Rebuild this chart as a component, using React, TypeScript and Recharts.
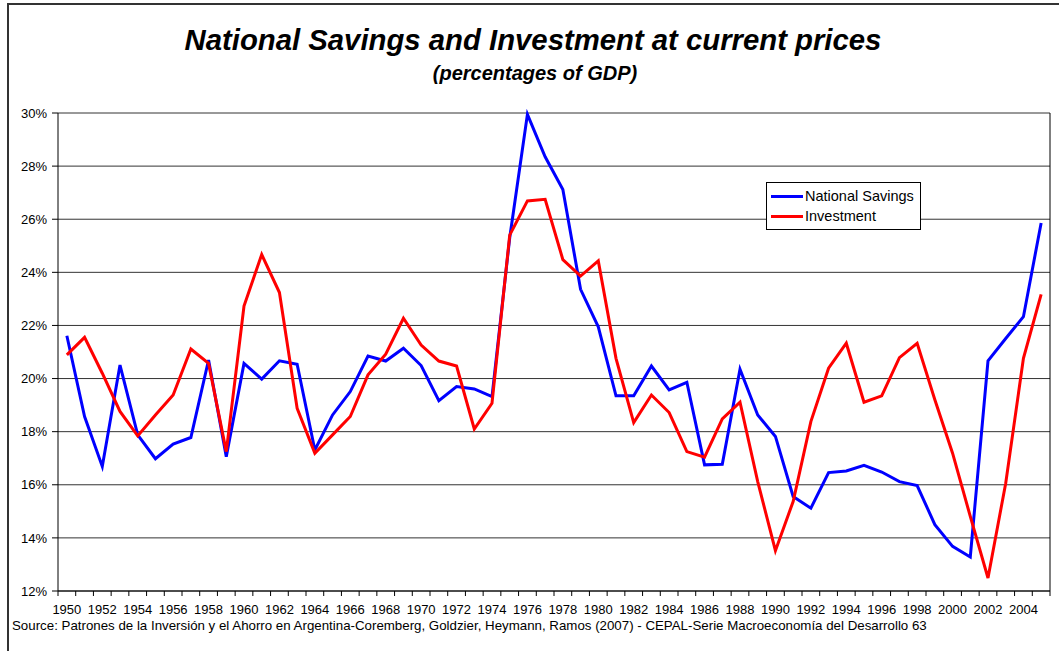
import React from 'react';
import { LineChart, Line, XAxis, YAxis, CartesianGrid, Legend, ReferenceLine } from 'recharts';

const years = [
  1950, 1951, 1952, 1953, 1954, 1955, 1956, 1957, 1958, 1959,
  1960, 1961, 1962, 1963, 1964, 1965, 1966, 1967, 1968, 1969,
  1970, 1971, 1972, 1973, 1974, 1975, 1976, 1977, 1978, 1979,
  1980, 1981, 1982, 1983, 1984, 1985, 1986, 1987, 1988, 1989,
  1990, 1991, 1992, 1993, 1994, 1995, 1996, 1997, 1998, 1999,
  2000, 2001, 2002, 2003, 2004, 2005,
];

const nationalSavings = [
  21.61, 18.57, 16.69, 20.51, 17.88, 16.98, 17.53, 17.78, 20.7, 17.06,
  20.57, 19.98, 20.67, 20.54, 17.31, 18.63, 19.51, 20.85, 20.66, 21.14,
  20.49, 19.17, 19.7, 19.61, 19.32, 25.3, 29.95, 28.35, 27.12, 23.36,
  21.95, 19.35, 19.35, 20.47, 19.57, 19.86, 16.75, 16.77, 20.35, 18.63,
  17.82, 15.56, 15.12, 16.46, 16.52, 16.73, 16.48, 16.12, 15.97, 14.5,
  13.68, 13.28, 20.67, 21.51, 22.33, 25.86,
];

const investment = [
  20.89, 21.55, 20.2, 18.76, 17.84, 18.63, 19.38, 21.11, 20.57, 17.25,
  22.73, 24.67, 23.24, 18.88, 17.19, 17.88, 18.57, 20.14, 20.92, 22.27,
  21.26, 20.66, 20.47, 18.1, 19.07, 25.4, 26.69, 26.75, 24.48, 23.86,
  24.43, 20.76, 18.34, 19.38, 18.72, 17.25, 17.04, 18.48, 19.11, 16.12,
  13.52, 15.37, 18.38, 20.39, 21.33, 19.11, 19.35, 20.79, 21.33, 19.2,
  17.19, 14.81, 12.49, 16.06, 20.76, 23.17,
];

const yearLabels = [
  1950, 1952, 1954, 1956, 1958, 1960, 1962, 1964, 1966, 1968,
  1970, 1972, 1974, 1976, 1978, 1980, 1982, 1984, 1986, 1988,
  1990, 1992, 1994, 1996, 1998, 2000, 2002, 2004,
];

const yTicks = [12, 14, 16, 18, 20, 22, 24, 26, 28, 30];

const seriesNames = ['National Savings', 'Investment'];

const data = years.map((year, i) => ({
  year,
  savings: nationalSavings[i],
  investment: investment[i],
}));

// Excel puts tick marks between categories
const boundaries = [...years.map((y) => y - 0.5), years[years.length - 1] + 0.5];
const xDomain = [boundaries[0], boundaries[boundaries.length - 1]];

const FONT = '"Liberation Sans", Arial, sans-serif';

function LegendBox({ payload }: any) {
  const items = [...(payload || [])].sort(
    (a: any, b: any) => seriesNames.indexOf(a.value) - seriesNames.indexOf(b.value)
  );
  return (
    <div style={{ background: '#fff', border: '1px solid #000', padding: '3px 4px', width: 145 }}>
      {items.map((p: any) => (
        <div key={p.value} style={{ display: 'flex', alignItems: 'center', height: 20 }}>
          <span style={{ display: 'inline-block', width: 32, height: 3, background: p.color, marginRight: 2 }} />
          <span style={{ fontSize: 14.5, color: '#000' }}>{p.value}</span>
        </div>
      ))}
    </div>
  );
}

export default function App() {
  return (
    <div style={{ position: 'absolute', left: 0, top: 0, width: 1059, height: 651, background: '#fff', overflow: 'hidden', fontFamily: FONT }}>
      <div style={{ position: 'absolute', left: 7, top: 3, width: 1100, height: 700, border: '2px solid #333' }} />
      <div style={{ position: 'absolute', left: 0, top: 25, width: 1066, textAlign: 'center', fontSize: 29.3, lineHeight: 1, fontWeight: 'bold', fontStyle: 'italic' }}>
        National Savings and Investment at current prices
      </div>
      <div style={{ position: 'absolute', left: 0, top: 63, width: 1070, textAlign: 'center', fontSize: 20, lineHeight: 1, fontWeight: 'bold', fontStyle: 'italic' }}>
        (percentages of GDP)
      </div>
      <div style={{ position: 'absolute', left: 12, top: 619, fontSize: 13.3, lineHeight: 1, whiteSpace: 'nowrap' }}>
        Source: Patrones de la Inversión y el Ahorro en Argentina-Coremberg, Goldzier, Heymann, Ramos (2007) - CEPAL-Serie Macroeconomía del Desarrollo 63
      </div>
      <div style={{ position: 'absolute', left: 0, top: 0 }}>
        <LineChart width={1059} height={651} data={data} margin={{ top: 113, right: 9, bottom: 30, left: 0 }}>
          <CartesianGrid vertical={false} stroke="#333" strokeWidth={1} />
          <XAxis
            dataKey="year"
            type="number"
            domain={xDomain}
            ticks={boundaries}
            interval={0}
            height={5}
            tickSize={5}
            tickFormatter={() => ''}
            stroke="#000"
            axisLine={{ stroke: '#000' }}
            tickLine={{ stroke: '#000' }}
          />
          <XAxis
            xAxisId="labels"
            dataKey="year"
            type="number"
            domain={xDomain}
            ticks={yearLabels}
            interval={0}
            height={25}
            axisLine={false}
            tickLine={false}
            tickSize={0}
            tickMargin={9}
            tick={{ fill: '#000', fontSize: 13, fontFamily: FONT }}
          />
          <YAxis
            width={58}
            domain={[12, 30]}
            ticks={yTicks}
            interval={0}
            tickSize={6}
            tickMargin={5}
            tickFormatter={(v) => `${v}%`}
            axisLine={{ stroke: '#000' }}
            tickLine={{ stroke: '#000' }}
            tick={{ fill: '#000', fontSize: 13, fontFamily: FONT }}
          />
          <ReferenceLine x={xDomain[1]} stroke="#000" strokeWidth={1} />
          <Legend
            layout="vertical"
            align="center"
            verticalAlign="middle"
            wrapperStyle={{ left: 766, top: 182, width: 'auto' }}
            content={<LegendBox />}
          />
          <Line
            name="National Savings"
            dataKey="savings"
            type="linear"
            stroke="#0000ff"
            strokeWidth={3}
            dot={false}
            activeDot={false}
            isAnimationActive={false}
          />
          <Line
            name="Investment"
            dataKey="investment"
            type="linear"
            stroke="#ff0000"
            strokeWidth={3}
            dot={false}
            activeDot={false}
            isAnimationActive={false}
          />
        </LineChart>
      </div>
    </div>
  );
}
